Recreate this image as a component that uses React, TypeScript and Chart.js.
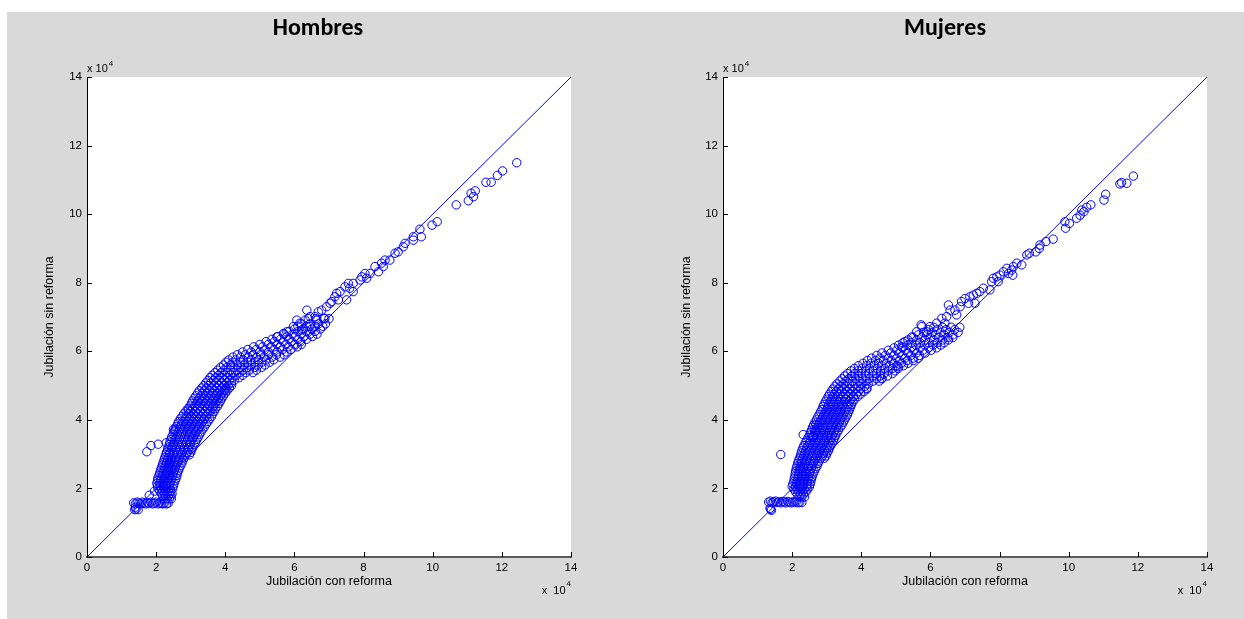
import React, { useEffect, useRef } from "react";
import { Chart, registerables } from "chart.js";

Chart.register(...registerables);
Chart.defaults.font.family = "'Liberation Sans', Arial, sans-serif";

// ---------- data (values in units of 10^4) ----------
const axisTicks = [0, 2, 4, 6, 8, 10, 12, 14];
const diagonalEnds = [0, 14];

const xAxisTitle = "Jubilación con reforma";
const yAxisTitle = "Jubilación sin reforma";

// Hombres
const hombresBase: number[][] = [
  [1.38, 1.38], [1.42, 1.4], [1.48, 1.38], [1.4, 1.45],
  [1.35, 1.58], [1.4, 1.55], [1.45, 1.6], [1.5, 1.57], [1.55, 1.55], [1.6, 1.6],
  [1.65, 1.57], [1.7, 1.55], [1.75, 1.58], [1.8, 1.56], [1.85, 1.6], [1.9, 1.55],
  [1.95, 1.57], [2.0, 1.6], [2.05, 1.55], [2.1, 1.58], [2.15, 1.56], [2.2, 1.55],
  [2.25, 1.58], [2.3, 1.55], [2.35, 1.57], [1.8, 1.8], [1.95, 1.92],
];
const hombresOutliers: number[][] = [
  [1.73, 3.07], [1.85, 3.25], [2.06, 3.29], [2.29, 3.33], [2.48, 3.24],
  [2.55, 3.7], [2.5, 3.72], [2.93, 4.29], [3.99, 4.87],
];
const hombresBandRows: [number, number[]][] = [
  [1.7, [2.22, 2.3, 2.38, 2.44]],
  [1.85, [2.15, 2.24, 2.32, 2.4, 2.46]],
  [2.0, [2.05, 2.14, 2.22, 2.3, 2.38, 2.48]],
  [2.15, [2.02, 2.1, 2.2, 2.3, 2.4, 2.52]],
  [2.3, [2.05, 2.15, 2.25, 2.35, 2.45, 2.58]],
  [2.45, [2.1, 2.2, 2.3, 2.4, 2.5, 2.62]],
  [2.6, [2.15, 2.25, 2.35, 2.45, 2.55, 2.68]],
  [2.75, [2.2, 2.3, 2.4, 2.5, 2.62, 2.75]],
  [2.9, [2.25, 2.35, 2.45, 2.56, 2.68, 2.82]],
  [3.05, [2.3, 2.4, 2.52, 2.64, 2.76, 2.9, 3.0]],
  [3.2, [2.35, 2.46, 2.58, 2.7, 2.82, 2.95, 3.06]],
  [3.35, [2.4, 2.52, 2.64, 2.76, 2.88, 3.0, 3.14]],
  [3.5, [2.45, 2.58, 2.7, 2.82, 2.95, 3.08, 3.22]],
  [3.65, [2.52, 2.64, 2.76, 2.9, 3.02, 3.16, 3.3]],
  [3.8, [2.58, 2.7, 2.84, 2.98, 3.12, 3.26, 3.4]],
  [3.95, [2.65, 2.78, 2.92, 3.06, 3.2, 3.35, 3.5]],
  [4.1, [2.75, 2.88, 3.02, 3.16, 3.3, 3.45, 3.6]],
  [4.25, [2.86, 3.0, 3.14, 3.28, 3.42, 3.56, 3.68]],
  [4.4, [2.98, 3.12, 3.26, 3.4, 3.54, 3.66, 3.78]],
  [4.55, [3.05, 3.2, 3.35, 3.5, 3.64, 3.76, 3.86]],
  [4.7, [3.15, 3.3, 3.45, 3.6, 3.74, 3.86, 3.95]],
  [4.85, [3.25, 3.4, 3.55, 3.7, 3.84, 3.96, 4.05]],
  [5.0, [3.38, 3.52, 3.68, 3.82, 3.96, 4.08, 4.18]],
  [5.15, [3.5, 3.66, 3.82, 3.98, 4.12, 4.26]],
  [5.3, [3.62, 3.8, 3.98, 4.15, 4.32, 4.5]],
  [5.45, [3.78, 3.96, 4.15, 4.34, 4.52, 4.7, 4.9]],
  [5.6, [3.95, 4.15, 4.35, 4.55, 4.75, 4.95, 5.15]],
  [5.75, [4.1, 4.3, 4.52, 4.74, 4.96, 5.18, 5.4]],
  [5.9, [4.35, 4.58, 4.8, 5.02, 5.25, 5.48, 5.7]],
  [6.05, [4.65, 4.9, 5.15, 5.4, 5.65, 5.9]],
  [6.2, [5.0, 5.25, 5.5, 5.75, 6.0, 6.2]],
  [6.35, [5.35, 5.6, 5.85, 6.1, 6.35]],
  [6.5, [5.7, 5.95, 6.2, 6.45, 6.65]],
  [6.65, [6.0, 6.25, 6.5, 6.75]],
  [6.8, [6.2, 6.45, 6.7, 6.9]],
  [6.95, [6.4, 6.62, 6.85, 7.0]],
];
const hombresBandRowsB: [number, number[]][] = [
  [1.78, [2.19, 2.27, 2.35, 2.43]],
  [1.93, [2.1, 2.19, 2.27, 2.35, 2.43]],
  [2.08, [2.04, 2.12, 2.21, 2.3, 2.39, 2.5]],
  [2.23, [2.04, 2.13, 2.23, 2.33, 2.43, 2.55]],
  [2.38, [2.08, 2.18, 2.28, 2.38, 2.48, 2.6]],
  [2.53, [2.13, 2.23, 2.33, 2.43, 2.53, 2.65]],
  [2.68, [2.18, 2.28, 2.38, 2.48, 2.58, 2.72]],
  [2.83, [2.23, 2.33, 2.43, 2.53, 2.65, 2.78]],
  [2.98, [2.28, 2.38, 2.49, 2.6, 2.72, 2.86, 2.96]],
  [3.13, [2.33, 2.44, 2.56, 2.68, 2.8, 2.92, 3.03]],
  [3.28, [2.38, 2.5, 2.62, 2.74, 2.86, 2.98, 3.1]],
  [3.43, [2.43, 2.55, 2.67, 2.8, 2.92, 3.04, 3.18]],
  [3.58, [2.49, 2.61, 2.74, 2.86, 2.99, 3.12, 3.26]],
  [3.73, [2.55, 2.68, 2.8, 2.94, 3.08, 3.22, 3.35]],
  [3.88, [2.62, 2.74, 2.88, 3.02, 3.16, 3.3, 3.45]],
  [4.03, [2.7, 2.84, 2.98, 3.12, 3.26, 3.4, 3.55]],
  [4.18, [2.8, 2.94, 3.08, 3.22, 3.36, 3.5, 3.64]],
  [4.33, [2.92, 3.06, 3.2, 3.34, 3.48, 3.62, 3.72]],
  [4.48, [3.02, 3.16, 3.3, 3.44, 3.58, 3.7, 3.82]],
  [4.63, [3.1, 3.25, 3.4, 3.55, 3.68, 3.8, 3.9]],
  [4.78, [3.2, 3.35, 3.5, 3.65, 3.78, 3.9, 4.0]],
  [4.93, [3.32, 3.46, 3.62, 3.76, 3.9, 4.02, 4.12]],
  [5.08, [3.44, 3.58, 3.74, 3.9, 4.04, 4.18]],
  [5.23, [3.56, 3.72, 3.9, 4.06, 4.22, 4.4]],
  [5.38, [3.7, 3.88, 4.06, 4.24, 4.42, 4.6, 4.8]],
  [5.53, [3.86, 4.05, 4.25, 4.45, 4.65, 4.85, 5.05]],
  [5.68, [4.02, 4.22, 4.44, 4.64, 4.86, 5.06, 5.28]],
  [5.83, [4.22, 4.44, 4.66, 4.9, 5.12, 5.35, 5.58]],
  [5.98, [4.5, 4.75, 5.0, 5.25, 5.5, 5.78]],
  [6.13, [4.82, 5.08, 5.32, 5.58, 5.82, 6.08]],
  [6.28, [5.18, 5.42, 5.68, 5.92, 6.18]],
  [6.43, [5.52, 5.78, 6.02, 6.28, 6.52]],
  [6.58, [5.85, 6.1, 6.35, 6.6]],
  [6.73, [6.1, 6.35, 6.6, 6.82]],
];
const hombresUpper: number[][] = [
  [12.43, 11.5], [12.02, 11.26], [11.87, 11.13], [11.69, 10.93], [11.54, 10.93],
  [11.23, 10.68], [11.11, 10.61], [11.18, 10.51], [11.03, 10.39], [10.68, 10.27],
  [10.13, 9.78], [9.98, 9.68], [9.67, 9.34], [9.63, 9.56], [9.44, 9.34], [9.44, 9.24],
  [9.2, 9.15], [9.15, 9.05], [9.0, 8.9], [8.91, 8.86], [8.76, 8.66], [8.62, 8.66],
  [8.52, 8.57], [8.57, 8.47], [8.33, 8.47], [8.43, 8.32], [8.19, 8.27], [8.04, 8.27],
  [8.09, 8.13], [7.95, 8.17], [7.9, 8.08], [7.7, 7.98], [7.56, 7.98], [7.7, 7.74],
  [7.6, 7.84], [7.46, 7.88], [7.32, 7.74], [7.22, 7.69], [7.17, 7.59], [7.51, 7.5],
  [7.27, 7.5], [7.08, 7.45], [7.03, 7.4], [6.93, 7.3], [6.79, 7.2], [6.69, 7.15],
  [6.36, 7.2], [6.6, 7.01], [6.45, 7.01], [6.31, 6.91], [6.07, 6.91], [6.16, 6.82],
  [6.64, 6.91], [6.88, 6.96], [5.97, 6.72], [5.78, 6.57], [5.68, 6.52], [6.21, 6.62],
  [6.45, 6.72], [5.49, 6.42],
];

// Mujeres
const mujeresBase: number[][] = [
  [1.38, 1.39], [1.4, 1.36], [1.36, 1.42],
  [1.32, 1.6], [1.37, 1.63], [1.42, 1.58], [1.47, 1.61], [1.52, 1.63], [1.57, 1.59],
  [1.62, 1.61], [1.67, 1.58], [1.72, 1.62], [1.77, 1.6], [1.82, 1.58], [1.87, 1.62],
  [1.92, 1.6], [1.97, 1.58], [2.02, 1.61], [2.07, 1.59], [2.12, 1.62], [2.17, 1.58],
  [2.22, 1.6], [2.28, 1.59],
];
const mujeresOutliers: number[][] = [
  [1.67, 2.99], [2.32, 3.57], [2.59, 3.51], [2.69, 3.86], [2.66, 3.7], [2.23, 2.56],
  [4.16, 4.92], [5.73, 6.77],
];
const mujeresBandRows: [number, number[]][] = [
  [1.75, [2.2, 2.28, 2.36]],
  [1.9, [2.1, 2.2, 2.3, 2.4]],
  [2.05, [2.0, 2.1, 2.2, 2.3, 2.42, 2.5]],
  [2.2, [2.05, 2.14, 2.24, 2.34, 2.44, 2.54]],
  [2.35, [2.08, 2.18, 2.28, 2.38, 2.48, 2.58]],
  [2.5, [2.1, 2.2, 2.3, 2.4, 2.52, 2.64]],
  [2.65, [2.14, 2.24, 2.34, 2.46, 2.58, 2.72]],
  [2.8, [2.18, 2.28, 2.4, 2.52, 2.64, 2.78]],
  [2.95, [2.24, 2.34, 2.46, 2.58, 2.72, 2.88, 2.98]],
  [3.1, [2.28, 2.4, 2.52, 2.66, 2.8, 2.94, 3.05]],
  [3.25, [2.34, 2.46, 2.6, 2.74, 2.88, 3.02, 3.12]],
  [3.4, [2.42, 2.54, 2.68, 2.82, 2.96, 3.1, 3.2]],
  [3.55, [2.5, 2.62, 2.76, 2.9, 3.04, 3.16, 3.26]],
  [3.7, [2.56, 2.7, 2.84, 2.98, 3.12, 3.24, 3.34]],
  [3.85, [2.62, 2.76, 2.9, 3.04, 3.18, 3.32, 3.44]],
  [4.0, [2.7, 2.84, 2.98, 3.12, 3.26, 3.4, 3.52]],
  [4.15, [2.78, 2.92, 3.06, 3.2, 3.34, 3.48, 3.6]],
  [4.3, [2.86, 3.0, 3.14, 3.28, 3.42, 3.56, 3.66]],
  [4.45, [2.92, 3.06, 3.2, 3.34, 3.48, 3.62, 3.72]],
  [4.6, [3.0, 3.14, 3.28, 3.42, 3.56, 3.7, 3.8]],
  [4.75, [3.08, 3.22, 3.38, 3.54, 3.7, 3.86, 3.98]],
  [4.9, [3.18, 3.34, 3.5, 3.66, 3.82, 3.98, 4.16]],
  [5.05, [3.3, 3.48, 3.66, 3.84, 4.02, 4.2]],
  [5.2, [3.45, 3.64, 3.84, 4.04, 4.24, 4.44, 4.6]],
  [5.35, [3.6, 3.8, 4.0, 4.22, 4.44, 4.66, 4.9]],
  [5.5, [3.8, 4.02, 4.24, 4.46, 4.68, 4.9, 5.07]],
  [5.65, [4.05, 4.28, 4.5, 4.72, 4.94, 5.16, 5.35]],
  [5.8, [4.3, 4.54, 4.78, 5.02, 5.26, 5.5, 5.65]],
  [5.95, [4.6, 4.85, 5.1, 5.35, 5.6, 5.85]],
  [6.1, [4.95, 5.2, 5.45, 5.7, 5.95, 6.18]],
  [6.25, [5.2, 5.45, 5.7, 5.95, 6.2, 6.4]],
  [6.4, [5.5, 5.75, 6.0, 6.25, 6.5, 6.65]],
  [6.55, [5.8, 6.05, 6.3, 6.55, 6.8]],
  [6.7, [6.1, 6.35, 6.6, 6.85]],
];
const mujeresBandRowsB: [number, number[]][] = [
  [1.83, [2.15, 2.25, 2.33]],
  [1.98, [2.05, 2.15, 2.25, 2.35, 2.45]],
  [2.13, [2.02, 2.12, 2.22, 2.32, 2.43, 2.52]],
  [2.28, [2.06, 2.16, 2.26, 2.36, 2.46, 2.56]],
  [2.43, [2.09, 2.19, 2.29, 2.39, 2.5, 2.61]],
  [2.58, [2.12, 2.22, 2.32, 2.43, 2.55, 2.68]],
  [2.73, [2.16, 2.26, 2.37, 2.49, 2.61, 2.75]],
  [2.88, [2.21, 2.31, 2.43, 2.55, 2.68, 2.83, 2.93]],
  [3.03, [2.26, 2.37, 2.49, 2.62, 2.76, 2.91, 3.01]],
  [3.18, [2.31, 2.43, 2.56, 2.7, 2.84, 2.98, 3.08]],
  [3.33, [2.38, 2.5, 2.64, 2.78, 2.92, 3.06, 3.16]],
  [3.48, [2.46, 2.58, 2.72, 2.86, 3.0, 3.13, 3.23]],
  [3.63, [2.53, 2.66, 2.8, 2.94, 3.08, 3.2, 3.3]],
  [3.78, [2.59, 2.73, 2.87, 3.01, 3.15, 3.28, 3.39]],
  [3.93, [2.66, 2.8, 2.94, 3.08, 3.22, 3.36, 3.48]],
  [4.08, [2.74, 2.88, 3.02, 3.16, 3.3, 3.44, 3.56]],
  [4.23, [2.82, 2.96, 3.1, 3.24, 3.38, 3.52, 3.63]],
  [4.38, [2.89, 3.03, 3.17, 3.31, 3.45, 3.59, 3.69]],
  [4.53, [2.96, 3.1, 3.24, 3.38, 3.52, 3.66, 3.76]],
  [4.68, [3.04, 3.18, 3.33, 3.48, 3.63, 3.78, 3.9]],
  [4.83, [3.13, 3.28, 3.44, 3.6, 3.76, 3.92, 4.08]],
  [4.98, [3.24, 3.41, 3.58, 3.75, 3.92, 4.1]],
  [5.13, [3.38, 3.56, 3.75, 3.94, 4.14, 4.34, 4.52]],
  [5.28, [3.52, 3.72, 3.92, 4.13, 4.34, 4.55, 4.76]],
  [5.43, [3.7, 3.91, 4.12, 4.34, 4.56, 4.78, 4.98]],
  [5.58, [3.92, 4.15, 4.37, 4.59, 4.81, 5.03, 5.22]],
  [5.73, [4.18, 4.41, 4.64, 4.87, 5.1, 5.33, 5.5]],
  [5.88, [4.45, 4.7, 4.94, 5.18, 5.43, 5.68]],
  [6.03, [4.78, 5.03, 5.28, 5.53, 5.78, 6.02]],
  [6.18, [5.08, 5.33, 5.58, 5.83, 6.08, 6.3]],
  [6.33, [5.35, 5.6, 5.85, 6.1, 6.35, 6.52]],
  [6.48, [5.65, 5.9, 6.15, 6.4, 6.65]],
  [6.63, [5.95, 6.2, 6.45, 6.7]],
];
const mujeresUpper: number[][] = [
  [11.87, 11.11], [11.68, 10.9], [11.53, 10.92], [11.48, 10.88], [11.07, 10.58],
  [11.02, 10.41], [10.64, 10.27], [10.52, 10.2], [10.44, 10.07], [10.38, 10.12],
  [10.33, 9.97], [10.23, 9.88], [10.02, 9.73], [9.89, 9.78], [9.91, 9.59], [9.55, 9.27],
  [9.34, 9.2], [9.17, 9.1], [9.15, 9.0], [9.05, 8.9], [8.86, 8.86], [8.79, 8.81],
  [8.64, 8.52], [8.5, 8.57], [8.4, 8.47], [8.35, 8.37], [8.21, 8.42], [8.26, 8.27],
  [8.11, 8.32], [8.01, 8.22], [7.92, 8.17], [7.82, 8.13], [7.96, 8.03], [8.38, 8.22],
  [7.77, 8.03], [7.72, 7.79], [7.53, 7.84], [7.43, 7.74], [7.34, 7.69], [7.24, 7.64],
  [7.14, 7.59], [7.0, 7.54], [7.29, 7.4], [7.1, 7.4], [6.9, 7.45], [6.86, 7.3],
  [6.71, 7.2], [6.57, 7.2], [6.52, 7.35], [6.76, 7.06], [6.47, 7.01], [6.33, 6.96],
  [6.42, 6.82], [6.18, 6.82], [5.99, 6.72], [5.75, 6.72], [5.89, 6.57], [5.6, 6.57],
  [5.46, 6.42], [5.26, 6.28], [5.17, 6.13], [5.07, 5.55], [4.59, 5.21],
];

const rowsToPoints = (rows: [number, number[]][]) =>
  rows.flatMap(([y, xs]) => xs.map((x) => [x, y]));

const hombresPoints = [
  ...hombresBase, ...hombresOutliers, ...rowsToPoints(hombresBandRows),
  ...rowsToPoints(hombresBandRowsB), ...hombresUpper,
];
const mujeresPoints = [
  ...mujeresBase, ...mujeresOutliers, ...rowsToPoints(mujeresBandRows),
  ...rowsToPoints(mujeresBandRowsB), ...mujeresUpper,
];

// ---------- chart ----------
const BLUE = "#0000ff";
const FONT = "'Liberation Sans', Arial, sans-serif";

type PanelSpec = {
  title: string;
  points: number[][];
  left: number;
  width: number;
  yWidth: number;
  padRight: number;
  titleX: number;
  yTitlePad: number;
};

const decorPlugin = {
  id: "decor",
  beforeDraw(chart: any) {
    const { ctx, chartArea: a } = chart;
    ctx.save();
    ctx.fillStyle = "#ffffff";
    ctx.fillRect(a.left, a.top, a.right - a.left, a.bottom - a.top);
    ctx.restore();
  },
  afterDraw(chart: any) {
    const { ctx, chartArea: a, scales } = chart;
    const opts = chart.options.plugins.decor;
    ctx.save();
    // inward ticks
    ctx.strokeStyle = "#000";
    ctx.lineWidth = 1;
    ctx.beginPath();
    axisTicks.forEach((v) => {
      const px = Math.round(scales.x.getPixelForValue(v)) + 0.5;
      ctx.moveTo(px, a.bottom);
      ctx.lineTo(px, a.bottom - 5);
      const py = Math.round(scales.y.getPixelForValue(v)) + 0.5;
      ctx.moveTo(a.left, py);
      ctx.lineTo(a.left + 5, py);
    });
    ctx.stroke();
    // title
    ctx.fillStyle = "#000";
    ctx.font = "bold 24px Carlito, Calibri, 'Open Sans', sans-serif";
    ctx.textAlign = "center";
    ctx.textBaseline = "alphabetic";
    ctx.fillText(opts.title, opts.titleX, 23);
    // x 10^4 labels
    ctx.textAlign = "left";
    ctx.font = `11px ${FONT}`;
    const topBase = "x 10";
    const tw = ctx.measureText(topBase).width;
    ctx.fillText(topBase, a.left, a.top - 5);
    const botBase = "x  10";
    const bw = ctx.measureText(botBase).width;
    ctx.font = `8px ${FONT}`;
    ctx.fillText("4", a.left + tw + 1, a.top - 11);
    const sw = ctx.measureText("4").width;
    ctx.fillText("4", a.right - sw, a.bottom + 29);
    ctx.font = `11px ${FONT}`;
    ctx.fillText(botBase, a.right - sw - 1 - bw, a.bottom + 37);
    ctx.restore();
  },
};

function Panel({ spec }: { spec: PanelSpec }) {
  const ref = useRef<HTMLCanvasElement | null>(null);
  useEffect(() => {
    if (!ref.current) return;
    const chart = new Chart(ref.current, {
      type: "scatter",
      data: {
        datasets: [
          {
            type: "line",
            label: "45°",
            data: diagonalEnds.map((v) => ({ x: v, y: v })),
            borderColor: BLUE,
            borderWidth: 1,
            pointRadius: 0,
            fill: false,
            order: 2,
          },
          {
            type: "scatter",
            label: spec.title,
            data: spec.points.map(([x, y]) => ({ x, y })),
            pointStyle: "circle",
            pointRadius: 4.2,
            borderWidth: 1,
            borderColor: BLUE,
            backgroundColor: "rgba(0,0,0,0)",
            order: 1,
          },
        ],
      } as any,
      options: {
        animation: false,
        responsive: false,
        maintainAspectRatio: false,
        events: [],
        layout: { padding: { left: 0, right: spec.padRight, top: 65, bottom: 0 } },
        plugins: {
          legend: { display: false },
          tooltip: { enabled: false },
          decor: { title: spec.title, titleX: spec.titleX },
        } as any,
        scales: {
          x: {
            type: "linear",
            min: 0,
            max: 14,
            afterBuildTicks: (s: any) => {
              s.ticks = axisTicks.map((v) => ({ value: v }));
            },
            afterFit: (s: any) => {
              s.height = 62;
            },
            grid: { drawOnChartArea: false, drawTicks: false },
            border: { display: true, color: "#5a5a5a", width: 2 },
            ticks: { padding: 4, color: "#000", font: { family: FONT, size: 11.5 }, maxRotation: 0, autoSkip: false },
            title: {
              display: true,
              text: xAxisTitle,
              color: "#000",
              font: { family: FONT, size: 12.5 },
              padding: { top: 0, bottom: 29.5 },
            },
          },
          y: {
            type: "linear",
            min: 0,
            max: 14,
            afterBuildTicks: (s: any) => {
              s.ticks = axisTicks.map((v) => ({ value: v }));
            },
            afterFit: (s: any) => {
              s.width = spec.yWidth;
            },
            grid: { drawOnChartArea: false, drawTicks: false },
            border: { display: true, color: "#000", width: 1 },
            ticks: { padding: 5, color: "#000", font: { family: FONT, size: 11.5 }, autoSkip: false },
            title: {
              display: true,
              text: yAxisTitle,
              color: "#000",
              font: { family: FONT, size: 12.5 },
              padding: { top: spec.yTitlePad, bottom: 0 },
            },
          },
        },
      } as any,
      plugins: [decorPlugin],
    });
    return () => chart.destroy();
  }, [spec]);
  return (
    <canvas
      ref={ref}
      width={spec.width}
      height={607}
      style={{ position: "absolute", left: spec.left, top: 12, width: spec.width, height: 607 }}
    />
  );
}

const hombresSpec: PanelSpec = {
  title: "Hombres",
  points: hombresPoints,
  left: 7,
  width: 615,
  yWidth: 80,
  padRight: 51,
  titleX: 311,
  yTitlePad: 35.5,
};
const mujeresSpec: PanelSpec = {
  title: "Mujeres",
  points: mujeresPoints,
  left: 622,
  width: 622,
  yWidth: 101,
  padRight: 37,
  titleX: 323,
  yTitlePad: 57.5,
};

export default function App() {
  return (
    <div style={{ position: "absolute", left: 0, top: 0, width: 1244, height: 619, background: "#fff", overflow: "hidden" }}>
      <div style={{ position: "absolute", left: 7, top: 12, width: 1237, height: 607, background: "#d9d9d9" }} />
      <Panel spec={hombresSpec} />
      <Panel spec={mujeresSpec} />
    </div>
  );
}
